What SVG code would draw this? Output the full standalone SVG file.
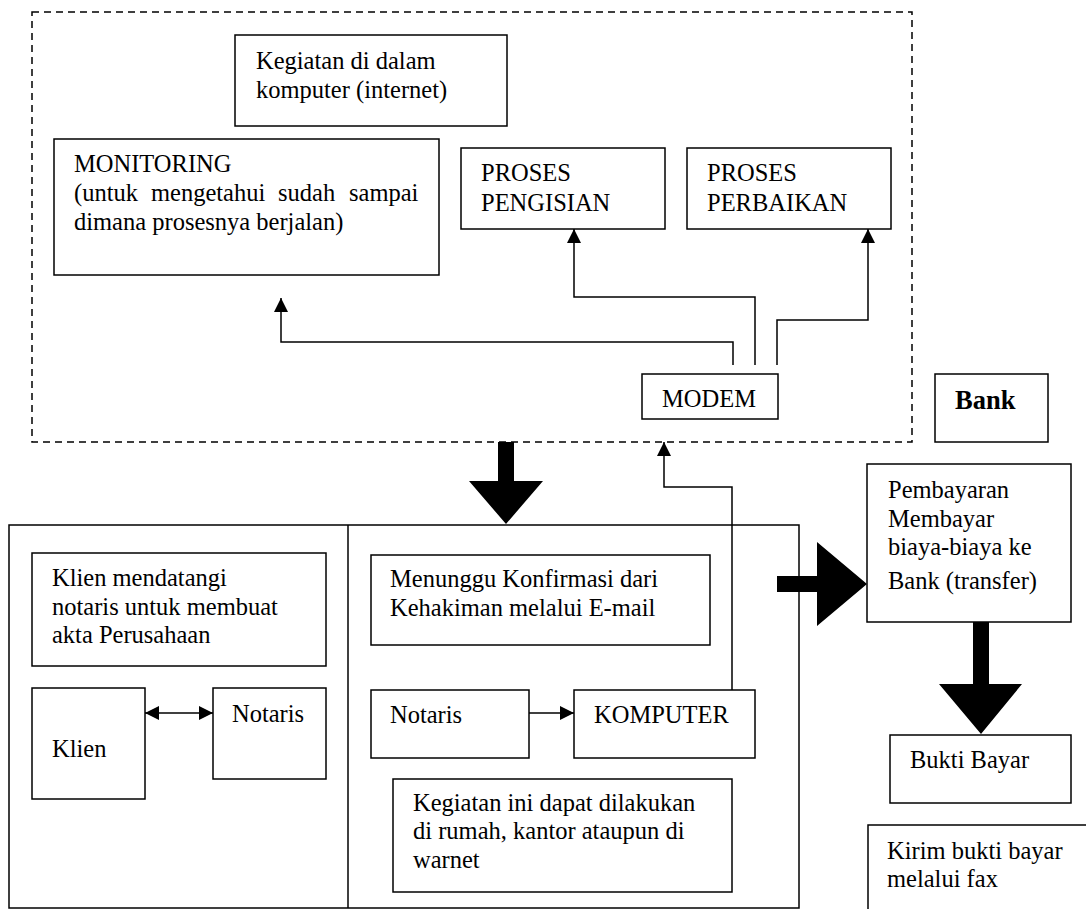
<svg xmlns="http://www.w3.org/2000/svg" width="1086" height="909" viewBox="0 0 1086 909">
<style>
.box{fill:#fff;stroke:#000;stroke-width:1.5}
.frame{fill:none;stroke:#000;stroke-width:1.5}
.dash{fill:none;stroke:#000;stroke-width:1.5;stroke-dasharray:7 5}
.ln{fill:none;stroke:#000;stroke-width:1.5}
.big{fill:#000;stroke:none}
text{font-family:"Liberation Serif","Times New Roman",serif;font-size:24.5px;fill:#000}
.b{font-weight:bold;font-size:26.5px}
</style>
<defs>
<marker id="ah" markerUnits="userSpaceOnUse" markerWidth="14" markerHeight="14" refX="14" refY="7" orient="auto-start-reverse">
<path d="M0,0 L14,7 L0,14 z" fill="#000"/>
</marker>
</defs>
<rect width="1086" height="909" fill="#fff"/>

<g id="internet-area">
<rect class="dash" x="32" y="12" width="880" height="430"/>
</g>

<g id="kegiatan-komputer">
<rect class="box" x="235" y="35" width="272" height="91"/>
<text x="256" y="69">Kegiatan di dalam</text>
<text x="256" y="98">komputer (internet)</text>
</g>

<g id="monitoring">
<rect class="box" x="54" y="139" width="385" height="136"/>
<text x="74" y="172">MONITORING</text>
<text y="201"><tspan x="74">(untuk</tspan><tspan x="151">mengetahui</tspan><tspan x="278">sudah</tspan><tspan x="349">sampai</tspan></text>
<text x="74" y="230">dimana prosesnya berjalan)</text>
</g>

<g id="proses-pengisian">
<rect class="box" x="461" y="148" width="204" height="81"/>
<text x="481" y="181">PROSES</text>
<text x="481" y="211">PENGISIAN</text>
</g>

<g id="proses-perbaikan">
<rect class="box" x="687" y="148" width="204" height="81"/>
<text x="707" y="181">PROSES</text>
<text x="707" y="211">PERBAIKAN</text>
</g>

<g id="modem">
<rect class="box" x="642" y="374" width="136" height="45"/>
<text x="662" y="407">MODEM</text>
</g>

<g id="bank">
<rect class="box" x="935" y="374" width="113" height="68"/>
<text class="b" x="955" y="409">Bank</text>
</g>

<g id="kantor-area">
<rect class="frame" x="9" y="525" width="790" height="383"/>
<line class="ln" x1="348" y1="525" x2="348" y2="908"/>
</g>

<g id="klien-mendatangi">
<rect class="box" x="32" y="553" width="294" height="113"/>
<text x="52" y="586">Klien mendatangi</text>
<text x="52" y="615">notaris untuk membuat</text>
<text x="52" y="643">akta Perusahaan</text>
</g>

<g id="klien">
<rect class="box" x="32" y="688" width="113" height="111"/>
<text x="52" y="757">Klien</text>
</g>

<g id="notaris-1">
<rect class="box" x="213" y="688" width="113" height="91"/>
<text x="232" y="722">Notaris</text>
</g>

<g id="menunggu">
<rect class="box" x="371" y="555" width="339" height="90"/>
<text x="390" y="587">Menunggu Konfirmasi dari</text>
<text x="390" y="616">Kehakiman melalui E-mail</text>
</g>

<g id="notaris-2">
<rect class="box" x="371" y="690" width="158" height="68"/>
<text x="390" y="723">Notaris</text>
</g>

<g id="komputer">
<rect class="box" x="574" y="690" width="181" height="68"/>
<text x="594" y="723">KOMPUTER</text>
</g>

<g id="kegiatan-ini">
<rect class="box" x="393" y="779" width="339" height="113"/>
<text x="413" y="811">Kegiatan ini dapat dilakukan</text>
<text x="413" y="839">di rumah, kantor ataupun di</text>
<text x="413" y="868">warnet</text>
</g>

<g id="pembayaran">
<rect class="box" x="867" y="464" width="204" height="158"/>
<text x="888" y="498">Pembayaran</text>
<text x="888" y="527">Membayar</text>
<text x="888" y="555">biaya-biaya ke</text>
<text x="888" y="589">Bank (transfer)</text>
</g>

<g id="bukti-bayar">
<rect class="box" x="890" y="735" width="181" height="68"/>
<text x="910" y="768">Bukti Bayar</text>
</g>

<g id="kirim-bukti">
<rect class="box" x="868" y="825" width="240" height="120"/>
<text x="887" y="859">Kirim bukti bayar</text>
<text x="887" y="887">melalui fax</text>
</g>

<g id="connectors">
<path class="ln" d="M733,365 V342 H281 V298" marker-end="url(#ah)"/>
<path class="ln" d="M755,365 V297 H574 V229" marker-end="url(#ah)"/>
<path class="ln" d="M777,365 V320 H868 V229" marker-end="url(#ah)"/>
<path class="ln" d="M732,690 V487 H664 V442" marker-end="url(#ah)"/>
<path class="ln" d="M529,713 H574" marker-end="url(#ah)"/>
<path class="ln" d="M145,713 H213" marker-start="url(#ah)" marker-end="url(#ah)"/>
<polygon class="big" points="498,442 514,442 514,481 543,481 506,524 469,481 498,481"/>
<polygon class="big" points="777,576 817,576 817,542 867,584 817,626 817,592 777,592"/>
<polygon class="big" points="973,622 989,622 989,684 1022,684 981,734 939,684 973,684"/>
</g>
</svg>
